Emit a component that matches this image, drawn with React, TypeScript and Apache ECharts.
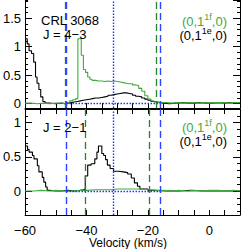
import React, { useEffect, useRef } from "react";
import * as echarts from "echarts";

// ---------- data (velocity km/s, channel start) ----------
// J = 4-3, (0,1^1e,0) black
const top1eV = [-60, -59.3, -58.7, -57.9, -57.2, -56.6, -56.1, -55.5, -54.9, -54.2, -53.5, -52, -50, -48, -47, -46, -45, -44, -43, -42, -41, -40, -39, -38, -37, -36, -35, -34, -33, -32, -31, -30, -29, -28, -27, -26, -25, -24, -23, -22, -21, -20, -19, -18, -17, -16, -15, -13, -11, -9, -7, -5, -3, -1, 1, 3, 5, 7, 9, 10];
const top1eY = [1.14, 1.05, 0.93, 0.88, 0.73, 0.47, 0.36, 0.25, 0.12, 0.04, 0.01, 0.0, 0.01, 0.0, 0.01, 0.02, 0.03, 0.04, 0.05, 0.06, 0.07, 0.08, 0.09, 0.1, 0.1, 0.11, 0.12, 0.13, 0.15, 0.16, 0.17, 0.18, 0.19, 0.19, 0.18, 0.17, 0.15, 0.13, 0.12, 0.1, 0.08, 0.06, 0.04, 0.03, 0.02, 0.01, 0.0, 0.01, 0.02, 0.01, 0.01, 0.02, 0.01, 0.01, 0.02, 0.01, 0.02, 0.01, 0.01, 0.01];
// J = 4-3, (0,1^1f,0) green
const top1fV = [-60, -58, -56, -54, -52, -50, -48, -47, -46.5, -45.5, -44.5, -43.5, -42.8, -41.7, -41.0, -40.3, -39.6, -38.9, -38.2, -37, -36, -35, -34, -33, -32, -31, -30, -29, -28, -27, -26, -25, -24, -23, -22, -21, -20, -19, -18, -17, -16, -14, -12, -10, -8, -6, -4, -2, 0, 2, 4, 6, 8, 10];
const top1fY = [0.01, 0.0, 0.01, 0.0, 0.01, 0.01, 0.0, 0.01, 0.02, 0.05, 0.07, 0.09, 1.14, 0.85, 0.6, 0.55, 0.47, 0.43, 0.41, 0.4, 0.4, 0.39, 0.4, 0.39, 0.4, 0.39, 0.38, 0.37, 0.36, 0.35, 0.35, 0.33, 0.32, 0.27, 0.22, 0.14, 0.08, 0.05, 0.03, 0.02, 0.02, 0.01, 0.02, 0.01, 0.02, 0.01, 0.02, 0.01, 0.02, 0.02, 0.01, 0.02, 0.02, 0.02];
// J = 2-1, (0,1^1e,0) black
const bot1eV = [-60, -59.2, -58.7, -57.6, -57.1, -56.0, -55.5, -54.4, -53.9, -53.3, -52.8, -52, -50, -48, -46, -44, -42, -41, -40.4, -39.6, -38.5, -37.3, -36.6, -36.1, -35.0, -34.4, -33.8, -33.2, -32.3, -31.2, -29.6, -28.0, -26.6, -25.4, -24.4, -23.4, -22.6, -20, -18, -14, -10, -6, -2, 2, 6, 10];
const bot1eY = [0.66, 0.61, 0.57, 0.52, 0.47, 0.37, 0.28, 0.2, 0.13, 0.06, 0.01, 0.0, 0.0, 0.01, 0.0, 0.01, 0.02, 0.03, 0.22, 0.38, 0.4, 0.47, 0.57, 0.66, 0.55, 0.52, 0.46, 0.38, 0.33, 0.29, 0.28, 0.27, 0.25, 0.19, 0.12, 0.07, 0.03, 0.01, 0.0, 0.0, 0.01, 0.0, 0.0, 0.0, 0.0, 0.0];
// J = 2-1, (0,1^1f,0) green
const bot1fV = [-60, -57, -55, -52, -50, -47, -45, -42, -40, -37, -35, -32, -30, -27, -25, -22, -20, -17, -15, -12, -10, -7, -5, -2, 0, 3, 5, 8, 10];
const bot1fY = [0.0, 0.01, 0.0, 0.01, 0.0, 0.0, 0.01, 0.01, 0.02, 0.02, 0.02, 0.03, 0.03, 0.03, 0.03, 0.02, 0.01, 0.01, 0.0, 0.01, 0.0, 0.01, 0.0, 0.01, 0.01, 0.0, 0.01, 0.0, 0.0];

// marker velocities
const blueDashedV = [-46.5, -16.0];
const blueDottedV = [-31.4];
const topGreenDashedV = [-46.8, -17.2];
const botGreenDashedV = [-40.3, -19.7];

// x tick label step (labels at -60, -40, -20, 0)
const xLabelStep = 20;

const GREEN = "#3eaa3e";
const DGREEN = "#1f8a1f";
const BLUE = "#2a44ff";
const DBLUE = "#2233ff";
const FONT = "Liberation Sans, Arial, sans-serif";

const pairs = (v: number[], y: number[]) => v.map((x, i) => [x, y[i]]);
const minus = (s: string) => s.replace(/-/g, "\u2212");

export default function App() {
  const ref = useRef<HTMLDivElement>(null);
  useEffect(() => {
    if (!ref.current) return;
    const chart = echarts.init(ref.current, undefined, { renderer: "svg" });

    const grids = [
      { left: 24, top: 0, width: 216, height: 108 },
      { left: 24, top: 109, width: 216, height: 106 },
    ];
    const yr = [
      [-0.075, 1.82],
      [-0.35, 1.2],
    ];

    const xAxisBase = (gridIndex: number, position: string) => ({
      type: "value",
      gridIndex,
      position,
      min: -60,
      max: 10,
      interval: 5,
      axisLine: { show: true, onZero: false, lineStyle: { color: "#000", width: 1 } },
      axisTick: { show: true, inside: true, length: 5, lineStyle: { color: "#000" } },
      splitLine: { show: false },
      axisLabel: { show: false },
    });

    const xAxis = [
      xAxisBase(0, "bottom"),
      xAxisBase(1, "bottom"),
      xAxisBase(1, "top"),
      {
        type: "value",
        gridIndex: 1,
        position: "bottom",
        min: -60,
        max: 10,
        interval: xLabelStep,
        axisLine: { show: false, onZero: false },
        axisTick: { show: false },
        splitLine: { show: false },
        axisLabel: {
          show: true,
          margin: 9,
          color: "#000",
          fontSize: 13,
          lineHeight: 12,
          fontFamily: FONT,
          showMinLabel: true,
          showMaxLabel: false,
          hideOverlap: false,
          formatter: (v: number) => (v > 5 ? "" : minus(String(Math.round(v)))),
        },
      },
    ];

    const yAxis: any[] = [];
    [0, 1].forEach((g) => {
      const [mn, mx] = yr[g];
      yAxis.push({
        type: "value", gridIndex: g, position: "left", min: mn, max: mx,
        minInterval: 0.1, maxInterval: 0.1, splitNumber: 15,
        axisLine: { show: true, onZero: false, lineStyle: { color: "#000", width: 1 } },
        axisTick: { show: true, inside: true, length: 3, lineStyle: { color: "#000" } },
        axisLabel: { show: false }, splitLine: { show: false },
      });
      yAxis.push({
        type: "value", gridIndex: g, position: "left", min: mn, max: mx,
        minInterval: 0.5, maxInterval: 0.5, splitNumber: 3,
        axisLine: { show: false, onZero: false },
        axisTick: { show: true, inside: true, length: 7, lineStyle: { color: "#000" } },
        splitLine: { show: false },
        axisLabel: {
          show: true, margin: 4, color: "#000", fontSize: 13, fontFamily: FONT,
          showMinLabel: false, showMaxLabel: false,
          formatter: (v: number) => {
            if (v < -1e-9 || Math.abs(v * 2 - Math.round(v * 2)) > 1e-6) return "";
            return String(+v.toFixed(1));
          },
        },
      });
      yAxis.push({
        type: "value", gridIndex: g, position: "right", min: mn, max: mx,
        minInterval: 0.1, maxInterval: 0.1, splitNumber: 15,
        axisLine: { show: true, onZero: false, lineStyle: { color: "#000", width: 1 } },
        axisTick: { show: true, inside: true, length: 3, lineStyle: { color: "#000" } },
        axisLabel: { show: false }, splitLine: { show: false },
      });
      yAxis.push({
        type: "value", gridIndex: g, position: "right", min: mn, max: mx,
        minInterval: 0.5, maxInterval: 0.5, splitNumber: 3,
        axisLine: { show: false, onZero: false },
        axisTick: { show: true, inside: true, length: 7, lineStyle: { color: "#000" } },
        axisLabel: { show: false }, splitLine: { show: false },
      });
    });

    const vline = (v: number, color: string, type: any, width: number) => ({
      xAxis: v,
      lineStyle: { color, type, width, opacity: 1 },
    });

    const markFor = (greenV: number[]) => ({
      silent: true,
      symbol: ["none", "none"],
      label: { show: false },
      animation: false,
      data: [
        ...greenV.map((v) => vline(v, DGREEN, [7, 4], 1.3)),
        ...blueDashedV.map((v) => vline(v, BLUE, [7, 4], 1.4)),
        ...blueDottedV.map((v) => vline(v, DBLUE, [1.5, 1.5], 1.4)),
        [
          { coord: [blueDashedV[0], 0], lineStyle: { color: DBLUE, type: [1.5, 1.5], width: 1.4, opacity: 1 } },
          { coord: [blueDashedV[1], 0] },
        ],
      ],
    });

    const line = (name: string, data: number[][], color: string, xi: number, yi: number, extra: any = {}) => ({
      type: "line",
      name,
      data,
      xAxisIndex: xi,
      yAxisIndex: yi,
      step: "end",
      symbol: "none",
      clip: true,
      lineStyle: { color, width: 1.1 },
      itemStyle: { color },
      ...extra,
    });

    const series = [
      line("top-1e", pairs(top1eV, top1eY), "#000", 0, 0),
      line("top-1f", pairs(top1fV, top1fY), GREEN, 0, 0, { markLine: markFor(topGreenDashedV) }),
      line("bot-1e", pairs(bot1eV, bot1eY), "#000", 1, 4),
      line("bot-1f", pairs(bot1fV, bot1fY), GREEN, 1, 4, { markLine: markFor(botGreenDashedV) }),
    ];

    const txt = (x: number, y: number, text: string, color = "#000", align = "left", size = 13, lh = 13) => ({
      type: "text",
      x, y,
      z: 100,
      style: {
        text, fill: color, font: `${size}px ${FONT}`,
        lineHeight: lh,
        textAlign: align, textVerticalAlign: "middle",
      },
    });

    const legend = (x: number, y: number, sup: string, color: string) => ({
      type: "text",
      x, y,
      z: 100,
      style: {
        text: `{a|(0,1}{s|${sup}}{a|,0)}`,
        fill: color,
        textAlign: "right",
        textVerticalAlign: "middle",
        rich: {
          a: { fontSize: 13, fontFamily: FONT, fill: color, lineHeight: 16, verticalAlign: "bottom" },
          s: { fontSize: 9, fontFamily: FONT, fill: color, lineHeight: 16, verticalAlign: "top" },
        },
      },
    });

    chart.setOption({
      animation: false,
      backgroundColor: "#fff",
      grid: grids,
      xAxis,
      yAxis,
      series,
      graphic: [
        txt(41, 20, "CRL 3068"),
        txt(43, 34, minus("J = 4-3")),
        txt(43, 127.5, minus("J = 2-1")),
        legend(227, 20, "1f", GREEN),
        legend(227, 34, "1e", "#000"),
        legend(227, 126, "1f", GREEN),
        legend(227, 140, "1e", "#000"),
        txt(128, 243, "Velocity (km/s)", "#000", "center", 12, 11),
      ],
    });
    return () => chart.dispose();
  }, []);

  return (
    <div
      ref={ref}
      style={{ position: "fixed", left: 0, top: 0, width: 241, height: 249, background: "#fff" }}
    />
  );
}
